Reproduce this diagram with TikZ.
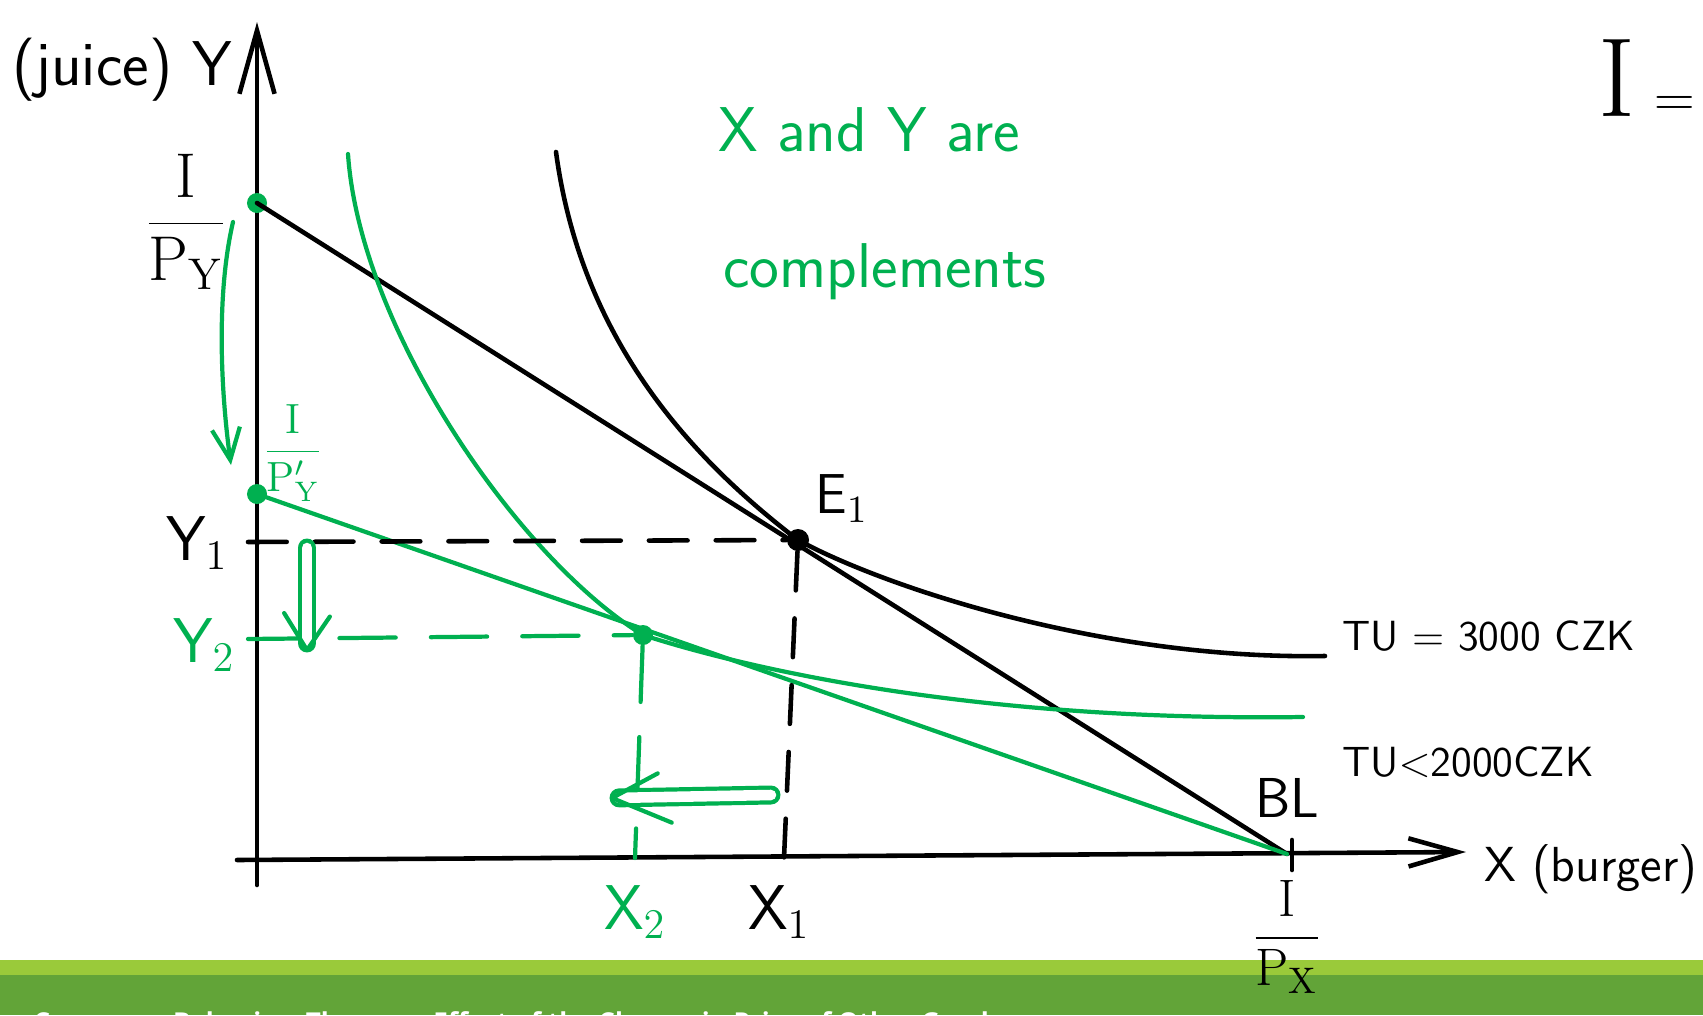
\documentclass[tikz,border=0pt]{standalone}
\usepackage{fontspec}
\newfontfamily\footerfont{Open Sans}
\usepackage{tikz}
\usetikzlibrary{arrows.meta, positioning}
\definecolor{pengreen}{RGB}{0,176,80}
\definecolor{barlight}{RGB}{154,202,58}
\definecolor{bardark}{RGB}{98,164,56}
\tikzstyle{blackline} = [draw=black, line width=1.3pt, line cap=round]
\tikzstyle{greenline} = [draw=pengreen, line width=1.2pt, line cap=round, line join=round]
\tikzstyle{blackdash} = [blackline, dash pattern=on 11pt off 8pt]
\tikzstyle{greendash} = [greenline, dash pattern=on 16pt off 10pt]
\tikzstyle{blackdot} = [circle, fill=black, inner sep=0pt, minimum size=0.22cm]
\tikzstyle{greendot} = [circle, fill=pengreen, inner sep=0pt, minimum size=0.2cm]
\tikzstyle{handtext} = [font=\sffamily\fontsize{18}{20}\selectfont, inner sep=1pt]
\tikzstyle{greentext} = [handtext, text=pengreen]
\tikzstyle{shiftshaft} = [greenline, double distance=3pt, shorten >=2pt]

\begin{document}
\begin{tikzpicture}[x=0.01cm, y=-0.01cm]
    \useasboundingbox (0,0) rectangle (1703,1015);

    % slide footer
    \fill[barlight] (0,960) rectangle (1703,975);
    \fill[bardark] (0,975) rectangle (1703,1015);
    \node (footer) [anchor=base west, inner sep=0pt, text=white,
        font=\footerfont\bfseries\fontsize{7.4}{9}\selectfont] at (33,1031)
        {Consumer Behavior: The cross Effect of the Change in Price of Other Goods};

    % axes
    \coordinate (yfoot) at (257,885);
    \coordinate (ytop)  at (257,22);
    \coordinate (xfoot) at (237,860);
    \coordinate (xtip)  at (1466,852);
    \draw[blackline, -{Straight Barb[length=18pt, width=10pt]}] (yfoot) -- (ytop);
    \draw[blackline, -{Straight Barb[length=14pt, width=8pt]}] (xfoot) -- (xtip);

    % points
    \node (A)  [greendot] at (257,203) {};
    \node (A2) [greendot] at (257,494) {};
    \node (E1) [blackdot] at (798,540) {};
    \node (E2) [greendot] at (643,635) {};
    \coordinate (B) at (1287,854);

    % budget lines
    \draw[blackline] (A.center) -- (B);
    \draw[greenline] (A2.center) -- (B);
    \coordinate (btop) at (1292,840);
    \coordinate (bbot) at (1292,870);
    \draw[blackline] (btop) -- (bbot);

    % indifference curves
    \coordinate (ic1a) at (556,152);
    \coordinate (ic1b) at (1325,656);
    \draw[blackline] (ic1a) .. controls (580,330) and (680,450) .. (E1.center)
        .. controls (880,585) and (1100,660) .. (ic1b);
    \coordinate (ic2a) at (348,154);
    \coordinate (ic2b) at (1303,717);
    \draw[greenline] (ic2a) .. controls (360,330) and (520,560) .. (E2.center)
        .. controls (720,660) and (950,722) .. (ic2b);

    % dashed guides
    \coordinate (y1tick) at (248,542);
    \coordinate (x1foot) at (784,858);
    \draw[blackdash] (y1tick) -- (E1);
    \draw[blackdash] (E1) -- (x1foot);
    \coordinate (y2tick) at (248,639);
    \coordinate (x2foot) at (635,858);
    \draw[greendash] (y2tick) -- (E2);
    \draw[greendash] (E2) -- (x2foot);

    % shifts
    \coordinate (pyA) at (233,222);
    \coordinate (pyB) at (231,465);
    \draw[greenline, -{Straight Barb[length=9pt, width=8pt]}] (pyA) .. controls (215,300) and (222,400) .. (pyB);
    \coordinate (ydrop1) at (307,548);
    \coordinate (ydrop2) at (307,650);
    \draw[shiftshaft] (ydrop1) -- (ydrop2);
    \draw[greenline] (ydrop2) ++(-6.5pt,10.5pt) -- (ydrop2) -- ++(6.5pt,9.5pt);
    \coordinate (xdrop1) at (771,795);
    \coordinate (xdrop2) at (612,798);
    \draw[shiftshaft] (xdrop1) -- (xdrop2);
    \draw[greenline] (xdrop2) ++(13pt,7pt) -- (xdrop2) -- ++(17pt,-7pt);

    % labels
    \node (juice) [handtext] at (122,70) {(juice) Y};
    \node (iy) [handtext] at (186,222) {$\displaystyle\frac{\mathrm{I}}{\mathrm{P}_{\mathrm{Y}}}$};
    \node (iyy) [greentext, font=\fontsize{12}{14}\selectfont] at (293,453) {$\displaystyle\frac{\mathrm{I}}{\mathrm{P}'_{\mathrm{Y}}}$};
    \node (y1) [handtext] at (197,543) {Y$_1$};
    \node (y2) [greentext] at (204,645) {Y$_2$};
    \node (x2) [greentext] at (635,912) {X$_2$};
    \node (x1) [handtext] at (779,912) {X$_1$};
    \node (e1) [handtext, font=\sffamily\fontsize{16}{18}\selectfont, above right=0.05cm and 0.05cm of E1] {E$_1$};
    \node (bl) [handtext, font=\sffamily\fontsize{16}{18}\selectfont, above=0.32cm of B] {BL};
    \node (ix) [handtext, font=\fontsize{15}{17}\selectfont, below=0.22cm of B] {$\displaystyle\frac{\mathrm{I}}{\mathrm{P}_{\mathrm{X}}}$};
    \node (xlab) [handtext, font=\sffamily\fontsize{14}{16}\selectfont, anchor=west] at (1480,869) {X (burger)};
    \node (tu1) [handtext, font=\sffamily\fontsize{12}{14}\selectfont, anchor=west] at (1338,636) {TU = 3000 CZK};
    \node (tu2) [handtext, font=\sffamily\fontsize{12}{14}\selectfont, below=1.26cm of tu1.west, anchor=west] {TU$<$2000CZK};
    \node (note1) [greentext] at (869,130) {X and Y are};
    \node (note2) [greentext] at (885,272) {complements};
    \node (income) [anchor=west, inner sep=0pt] at (1598,78)
        {\fontsize{32}{34}\selectfont I\,\fontsize{16}{18}\selectfont =};
\end{tikzpicture}
\end{document}
